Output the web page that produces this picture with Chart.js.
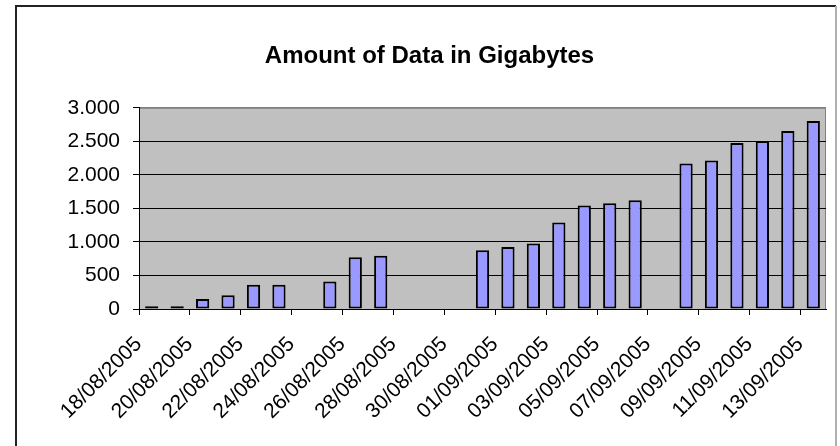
<!DOCTYPE html>
<html>
<head>
<meta charset="utf-8">
<script src="https://cdn.jsdelivr.net/npm/chart.js@4.4.1/dist/chart.umd.min.js"></script>
<style>
  html, body { margin: 0; padding: 0; background: #fff; }
</style>
</head>
<body>
<canvas id="chart" width="840" height="446"></canvas>
<script>
// one bar per day, gaps are days with no reading
const days = [
  '18/08/2005', '19/08/2005', '20/08/2005', '21/08/2005', '22/08/2005', '23/08/2005', '24/08/2005',
  '25/08/2005', '26/08/2005', '27/08/2005', '28/08/2005', '29/08/2005', '30/08/2005', '31/08/2005',
  '01/09/2005', '02/09/2005', '03/09/2005', '04/09/2005', '05/09/2005', '06/09/2005', '07/09/2005',
  '08/09/2005', '09/09/2005', '10/09/2005', '11/09/2005', '12/09/2005', '13/09/2005'
];
const gigabytes = [
  40, 40, 150, 205, 360, 360, null,
  410, 770, 795, null, null, null, 875,
  925, 975, 1290, 1545, 1575, 1620, null,
  2170, 2215, 2475, 2505, 2655, 2805
];
const yTicks = [0, 500, 1000, 1500, 2000, 2500, 3000];

const FONT = "'Liberation Sans', Arial, sans-serif";

function dotThousands(v) {
  return String(v).replace(/\B(?=(\d{3})+(?!\d))/g, '.');
}

// grey plot area and the outer chart border, Excel style
const frame = {
  id: 'frame',
  beforeDraw(chart) {
    const { ctx, chartArea: a } = chart;
    ctx.save();
    ctx.fillStyle = '#fff';
    ctx.fillRect(0, 0, chart.width, chart.height);
    ctx.fillStyle = '#c0c0c0';
    ctx.fillRect(a.left, a.top, a.right - a.left, a.bottom - a.top);
    ctx.strokeStyle = '#808080';
    ctx.lineWidth = 1;
    ctx.beginPath();
    ctx.moveTo(a.left, a.top + 0.5);
    ctx.lineTo(a.right - 0.5, a.top + 0.5);
    ctx.lineTo(a.right - 0.5, a.bottom);
    ctx.stroke();
    ctx.strokeStyle = '#222';
    ctx.lineWidth = 2;
    ctx.beginPath();
    ctx.moveTo(16, chart.height + 2);
    ctx.lineTo(16, 6);
    ctx.lineTo(836, 6);
    ctx.stroke();
    ctx.strokeStyle = '#b0b0b0';
    ctx.beginPath();
    ctx.moveTo(836, 6);
    ctx.lineTo(836, chart.height + 2);
    ctx.stroke();
    ctx.restore();
  }
};

new Chart(document.getElementById('chart'), {
  type: 'bar',
  data: {
    labels: days,
    datasets: [{
      label: 'Gigabytes',
      data: gigabytes,
      backgroundColor: '#9999ff',
      borderColor: '#000',
      borderWidth: 2,
      borderSkipped: false,
      barPercentage: 0.52,
      categoryPercentage: 1
    }]
  },
  options: {
    responsive: false,
    animation: false,
    layout: { padding: { top: 6, left: 33, right: 14, bottom: 0 } },
    plugins: {
      legend: { display: false },
      tooltip: { enabled: false },
      title: {
        display: true,
        text: 'Amount of Data in Gigabytes',
        color: '#000',
        font: { family: FONT, size: 24, weight: 'bold' },
        padding: { top: 36, bottom: 37 }
      }
    },
    scales: {
      x: {
        offset: true,
        border: { color: '#000', width: 1 },
        grid: {
          offset: true,
          drawOnChartArea: false,
          drawTicks: true,
          tickLength: 6,
          color: c => (c.index % 2 === 0 ? '#000' : 'rgba(0,0,0,0)')
        },
        ticks: {
          autoSkip: false,
          maxRotation: 45,
          minRotation: 45,
          labelOffset: -13,
          padding: 17,
          color: '#000',
          font: { family: FONT, size: 21 },
          callback: (v, i) => (i % 2 === 0 ? days[i] : '')
        },
        afterFit: s => {
          s.height = 137;
          s.paddingLeft = 0;
          s.paddingRight = 0;
        }
      },
      y: {
        min: yTicks[0],
        max: yTicks[yTicks.length - 1],
        border: { color: '#000', width: 1 },
        grid: {
          color: c => (c.tick && c.tick.value === yTicks[yTicks.length - 1] ? '#808080' : '#000'),
          tickLength: 6,
          tickColor: '#000'
        },
        ticks: {
          stepSize: yTicks[1] - yTicks[0],
          padding: 13,
          color: '#000',
          font: { family: FONT, size: 21 },
          callback: v => dotThousands(v)
        },
        afterFit: s => { s.width = 106; }
      }
    }
  },
  plugins: [frame]
});
</script>
</body>
</html>
